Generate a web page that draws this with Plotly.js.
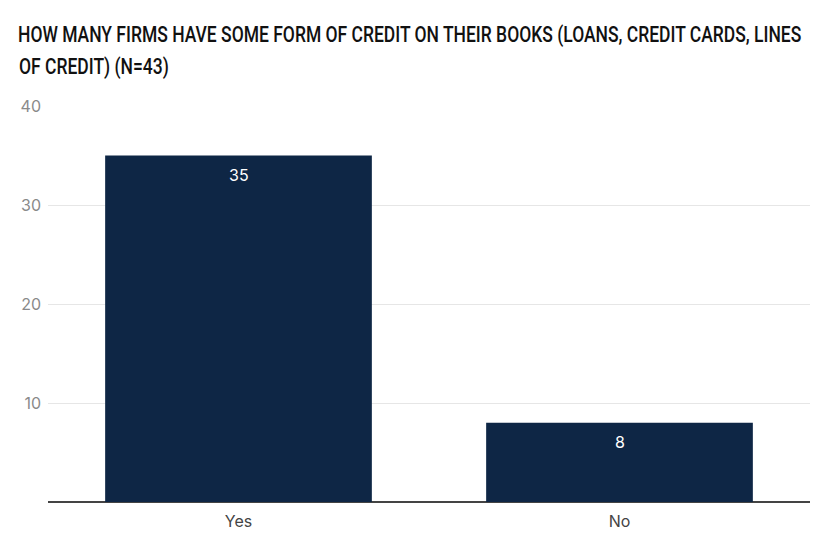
<!DOCTYPE html>
<html><head><meta charset="utf-8">
<script src="https://cdn.plot.ly/plotly-3.0.1.min.js"></script>
<style>html,body{margin:0;padding:0;background:#fff}#chart{width:832px;height:546px}
svg text.gtitle, svg g.annotation.ttl text.annotation-text{
  transform-box: fill-box; transform-origin: left center; transform: scaleX(0.795);
}
</style>
</head><body><div id="chart"></div>
<script>
const categories = ["Yes", "No"];
const counts = [35, 8];
const titleLine1 = "HOW MANY FIRMS HAVE SOME FORM OF CREDIT ON THEIR BOOKS (LOANS, CREDIT CARDS, LINES";
const titleLine2 = "OF CREDIT) (N=43)";
const yTicks = [10, 20, 30, 40];

const titleFont = {family: "Roboto, 'Liberation Sans', sans-serif", size: 22, color: "#111", weight: 500};
const labelFont = {family: "Inter, 'Noto Sans', sans-serif", size: 16, color: "#fff"};

const valueLabels = categories.map((c, i) => ({
  x: c, y: counts[i], text: String(counts[i]), xref: "x", yref: "y",
  showarrow: false, yanchor: "top", yshift: -7, font: labelFont
}));

Plotly.newPlot("chart", [{
  type: "bar",
  x: categories,
  y: counts,
  marker: {color: "#0e2645"},
  width: 0.7,
  hoverinfo: "none"
}], {
  width: 832, height: 546,
  margin: {l: 48, r: 22, t: 106, b: 44},
  paper_bgcolor: "#fff", plot_bgcolor: "#fff",
  showlegend: false,
  title: {text: titleLine1, font: titleFont, x: 18/832, xanchor: "left", xref: "container", yref: "container", y: 1 - 42/546, yanchor: "bottom"},
  annotations: [{text: titleLine2, font: titleFont, xref: "paper", yref: "paper", x: (18-48)/762, y: 1 + (106-81.5)/396, xanchor: "left", yanchor: "bottom", showarrow: false, xshift: -1}].concat(valueLabels),
  xaxis: {
    tickfont: {family: "Inter, 'Noto Sans', sans-serif", size: 16, color: "#444"},
    showgrid: false, zeroline: false, showline: false, ticks: "", ticklabelstandoff: 8
  },
  yaxis: {
    range: [0, 40], tickvals: yTicks, ticktext: yTicks.map(String),
    tickfont: {family: "Inter, 'Noto Sans', sans-serif", size: 16, color: "#8a8a8a"},
    gridcolor: "#e6e6e6", gridwidth: 1,
    zeroline: true, zerolinecolor: "#444", zerolinewidth: 1.5,
    showline: false, ticks: "", ticklabelstandoff: 6
  }
}, {displayModeBar: false, staticPlot: true}).then(() => {
  document.querySelectorAll("g.annotation")[0].classList.add("ttl");
});
</script></body></html>
